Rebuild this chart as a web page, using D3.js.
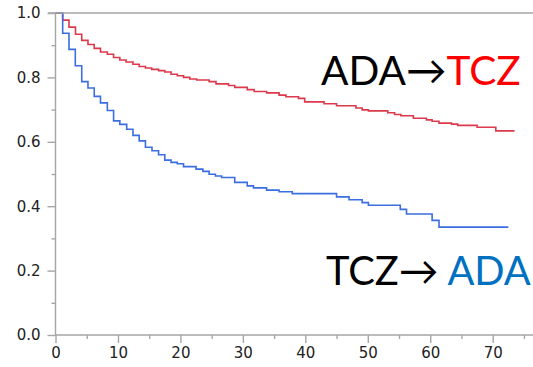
<!DOCTYPE html>
<html><head><meta charset="utf-8">
<script src="https://cdn.jsdelivr.net/npm/d3@7/dist/d3.min.js"></script>
<style>
body{margin:0;background:#fff;}
svg{display:block;}
</style></head>
<body>
<svg id="c" width="533" height="367"></svg>
<script>
// ---- data ----
const xTicks = [0,10,20,30,40,50,60,70];
const xMinor = [5,15,25,35,45,55,65,75];
const yTicks = [0,0.2,0.4,0.6,0.8,1.0];
const yMinor = [0.1,0.3,0.5,0.7,0.9];

// ADA -> TCZ (red)
const redTime = [0,1.15,2.16,3.2,4.2,5.2,6.2,7.2,8.3,9.3,10.3,11.3,12.4,13.4,14.4,15.4,16.5,17.5,18.5,19.5,20.5,21.5,22.6,24.6,25.7,27.7,28.7,30.7,31.8,33.8,35.8,36.9,38.9,39.9,43.0,45.0,48.1,49.1,50.1,53.2,54.3,55.3,57.3,59.4,60.3,61.4,63.4,64.4,67.5,70.5,73.5];
const redSurv = [1,0.978,0.956,0.934,0.915,0.902,0.890,0.879,0.872,0.862,0.854,0.848,0.841,0.834,0.829,0.825,0.821,0.817,0.810,0.805,0.800,0.795,0.792,0.787,0.780,0.775,0.769,0.762,0.756,0.752,0.745,0.740,0.735,0.724,0.718,0.712,0.705,0.699,0.696,0.690,0.685,0.681,0.673,0.668,0.664,0.658,0.655,0.651,0.645,0.634,0.634];

// TCZ -> ADA (blue)
const blueTime = [0,1.15,2.16,3.17,4.2,5.2,6.2,7.2,8.3,9.3,10.3,11.4,12.4,13.4,14.4,15.45,16.5,17.5,18.5,19.5,20.5,22.5,23.6,24.6,25.6,26.6,28.7,30.7,31.7,33.8,35.8,37.9,45.0,47.0,49.1,50.1,55.2,56.2,60.3,61.4,72.5];
const blueSurv = [1,0.937,0.887,0.836,0.787,0.767,0.741,0.721,0.697,0.665,0.654,0.639,0.620,0.603,0.583,0.572,0.560,0.543,0.536,0.532,0.523,0.515,0.508,0.499,0.494,0.489,0.474,0.463,0.457,0.450,0.445,0.439,0.429,0.420,0.411,0.403,0.390,0.376,0.356,0.335,0.335];

// ---- drawing ----
const svg = d3.select("#c");
const W = 533;
const x = d3.scaleLinear().domain([0,70]).range([55.5,492.7]);
const y = d3.scaleLinear().domain([0,1]).range([335,13]);
const axisColor = "#a6a6a6";
const font = "'DejaVu Sans', Verdana, sans-serif";

const line = d3.line().x(d=>x(d[0])).y(d=>y(d[1])).curve(d3.curveStepAfter);

svg.append("path").datum(d3.zip(redTime, redSurv))
  .attr("d", line).attr("fill","none").attr("stroke","#dc3a4c").attr("stroke-width",1.6);
svg.append("path").datum(d3.zip(blueTime, blueSurv))
  .attr("d", line).attr("fill","none").attr("stroke","#3b6ee0").attr("stroke-width",1.6);

// frame lines
svg.append("line").attr("x1",48).attr("x2",W).attr("y1",y(1)).attr("y2",y(1))
  .attr("stroke",axisColor).attr("stroke-width",1.4);
svg.append("line").attr("x1",x(0)).attr("x2",W).attr("y1",y(0)).attr("y2",y(0))
  .attr("stroke",axisColor).attr("stroke-width",1.4);

function styleAxis(g){
  g.select(".domain").remove();
  g.selectAll(".tick line").attr("stroke",axisColor).attr("stroke-width",1.4);
  g.selectAll(".tick text").attr("fill","#222").style("font-family",font).style("font-size","15px");
}

// y axis
const gy = svg.append("g").attr("transform",`translate(${x(0)},0)`)
  .call(d3.axisLeft(y).tickValues(yTicks).tickFormat(d3.format(".1f")).tickSize(8).tickPadding(7))
  .call(styleAxis);
svg.append("g").attr("transform",`translate(${x(0)},0)`)
  .call(d3.axisLeft(y).tickValues(yMinor).tickFormat("").tickSize(4))
  .call(styleAxis);
svg.append("line").attr("x1",x(0)).attr("x2",x(0)).attr("y1",y(1)).attr("y2",y(0))
  .attr("stroke",axisColor).attr("stroke-width",1.4);

// x axis
svg.append("g").attr("transform",`translate(0,${y(0)})`)
  .call(d3.axisBottom(x).tickValues(xTicks).tickFormat(d3.format("d")).tickSize(8).tickPadding(4))
  .call(styleAxis);
svg.append("g").attr("transform",`translate(0,${y(0)})`)
  .call(d3.axisBottom(x).tickValues(xMinor.filter(v=>x(v)<W)).tickFormat("").tickSize(4))
  .call(styleAxis);

// annotations
const annFont = "Lato, 'Open Sans', sans-serif";
const t1 = svg.append("text").attr("x",321).attr("y",85)
  .style("font-family",annFont).style("font-size","42px");
t1.append("tspan").attr("fill","#000").text("ADA→");
t1.append("tspan").attr("fill","#ff0000").text("TCZ");

const t2 = svg.append("text").attr("x",326).attr("y",285)
  .style("font-family",annFont).style("font-size","42px");
t2.append("tspan").attr("fill","#000").text("TCZ→ ");
t2.append("tspan").attr("fill","#0070c0").text("ADA");

// fit annotation widths to reference
function fit(t, w){
  const len = t.node().getComputedTextLength();
  const fs = 42 * w / len;
  t.style("font-size", fs.toFixed(1)+"px");
}
fit(t1, 200);
fit(t2, 205);
</script>
</body></html>
